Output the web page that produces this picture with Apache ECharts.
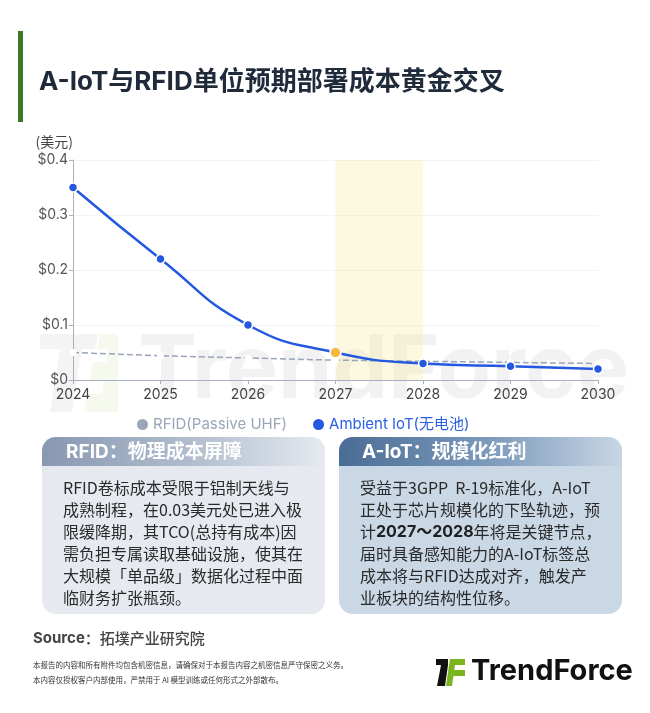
<!DOCTYPE html>
<html>
<head>
<meta charset="utf-8">
<script src="https://cdn.jsdelivr.net/npm/echarts@6/dist/echarts.min.js"></script>
<style>
html,body{margin:0;padding:0;background:#fff;}
#c{width:650px;height:713px;}
</style>
</head>
<body>
<div id="c"></div>
<script>
const years = ['2024','2025','2026','2027','2028','2029','2030'];
const rfidCost = [0.05, 0.044, 0.04, 0.036, 0.034, 0.032, 0.03];
const aiotCost = [0.35, 0.22, 0.10, 0.05, 0.03, 0.025, 0.02];
const yTicks = [0, 0.1, 0.2, 0.3, 0.4];
const highlightRange = ['2027', '2028'];
const seriesNames = ['RFID(Passive UHF)', 'Ambient IoT(无电池)'];

const FONT = "Inter, 'Noto Sans CJK SC', sans-serif";
const CJK = "'Noto Sans CJK SC', Inter, sans-serif";

const leftBody = 'RFID卷标成本受限于铝制天线与\n成熟制程，在0.03美元处已进入极\n限缓降期，其TCO(总持有成本)因\n需负担专属读取基础设施，使其在\n大规模「单品级」数据化过程中面\n临财务扩张瓶颈。';
const rightBody = '受益于3GPP  R-19标准化，A-IoT\n正处于芯片规模化的下坠轨迹，预\n计{b|2027～2028}年将是关键节点，\n届时具备感知能力的A-IoT标签总\n成本将与RFID达成对齐，触发产\n业板块的结构性位移。';

const chart = echarts.init(document.getElementById('c'), null, {renderer: 'canvas'});

const aiotData = aiotCost.map((v, i) => {
  if (years[i] === '2027') {
    return {value: v, symbolSize: 11, itemStyle: {color: '#f5b942', borderColor: '#fff', borderWidth: 1.5}};
  }
  return v;
});

const option = {
  backgroundColor: '#ffffff',
  animation: false,
  textStyle: {fontFamily: FONT},
  grid: {left: 73, right: 52, top: 160, bottom: 333, containLabel: false},
  legend: {
    left: 132, top: 412,
    itemGap: 26, itemWidth: 11, itemHeight: 11,
    icon: 'circle',
    data: [
      {name: seriesNames[0], itemStyle: {color: '#9aa5b8', borderWidth: 0}, textStyle: {color: '#9aa5b8'}},
      {name: seriesNames[1], itemStyle: {color: '#2458e0', borderWidth: 0}, textStyle: {color: '#2a5fe3'}}
    ],
    textStyle: {fontSize: 15, fontFamily: FONT}
  },
  xAxis: {
    type: 'category', data: years, boundaryGap: false,
    axisLine: {lineStyle: {color: '#a8b0bd'}},
    axisTick: {show: true, alignWithLabel: true, length: 4, lineStyle: {color: '#a8b0bd'}},
    axisLabel: {color: '#444', fontSize: 14, margin: 8, fontFamily: FONT}
  },
  yAxis: {
    type: 'value', min: yTicks[0], max: yTicks[yTicks.length - 1], interval: 0.1,
    name: '(美元)', nameLocation: 'end', nameGap: 11,
    nameTextStyle: {color: '#444', fontSize: 14, align: 'right', fontFamily: CJK, padding: [0, 0, 0, 0]},
    axisLine: {show: true, lineStyle: {color: '#a8b0bd'}},
    axisTick: {show: true, length: 4, lineStyle: {color: '#a8b0bd'}},
    axisLabel: {color: '#555', fontSize: 14, margin: 5, fontFamily: FONT,
      formatter: v => v === 0 ? '$0' : '$' + v.toFixed(1)},
    splitLine: {lineStyle: {color: '#e4e7ec', type: 'dotted'}}
  },
  graphic: [
    // watermark
    {type: 'group', z: 1, silent: true, children: [
      {type: 'polygon', shape: {points: [[40,334],[98,334],[95,349],[40,349]]}, style: {fill: 'rgba(0,0,0,0.045)'}},
      {type: 'polygon', shape: {points: [[60,349],[82,349],[72,412],[50,412]]}, style: {fill: 'rgba(0,0,0,0.045)'}},
      {type: 'polygon', shape: {points: [[100,334],[118,334],[118,412],[84,412],[88,394],[102,394],[104,380],[90,380],[93,362],[106,362],[108,349],[97,349]]}, style: {fill: 'rgba(140,190,40,0.08)'}},
      {type: 'text', left: 138, top: 328, style: {text: 'TrendForce', font: 'bold 88px ' + FONT, fill: 'rgba(0,0,0,0.05)'}}
    ]},
    // title bar
    {type: 'rect', shape: {x: 18, y: 31, width: 5, height: 91}, style: {fill: '#3b7a23'}},
    {type: 'text', left: 39, top: 69, style: {text: 'A-IoT与RFID单位预期部署成本黄金交叉', font: 'bold 26px ' + FONT, fill: '#1f2a3a'}},
    // left box
    {type: 'rect', shape: {x: 42, y: 437, width: 283, height: 177, r: 14}, style: {fill: '#e6eaf0'}},
    {type: 'rect', shape: {x: 42, y: 437, width: 283, height: 29, r: [14, 14, 0, 0]},
      style: {fill: new echarts.graphic.LinearGradient(0, 0, 1, 0, [{offset: 0, color: '#8898b2'}, {offset: 0.55, color: '#b3bfcf'}, {offset: 1, color: '#e6eaf0'}])}},
    {type: 'text', left: 66, top: 443, style: {text: 'RFID：物理成本屏障', font: 'bold 19px ' + FONT, fill: '#ffffff'}},
    {type: 'text', left: 63, top: 477, style: {text: leftBody, font: '16px ' + CJK, fill: '#2a2a2a', lineHeight: 22}},
    // right box
    {type: 'rect', shape: {x: 339, y: 437, width: 283, height: 177, r: 14}, style: {fill: '#cad7e4'}},
    {type: 'rect', shape: {x: 339, y: 437, width: 283, height: 29, r: [14, 14, 0, 0]},
      style: {fill: new echarts.graphic.LinearGradient(0, 0, 1, 0, [{offset: 0, color: '#4a6c95'}, {offset: 0.55, color: '#7f9cbd'}, {offset: 1, color: '#c8d6e4'}])}},
    {type: 'text', left: 362, top: 443, style: {text: 'A-IoT：规模化红利', font: 'bold 19px ' + FONT, fill: '#ffffff'}},
    {type: 'text', left: 360, top: 477, style: {text: rightBody, font: '16px ' + CJK, fill: '#2a2a2a', lineHeight: 22,
      rich: {b: {font: 'bold 16px ' + FONT, fill: '#1f1f1f', lineHeight: 22}}}},
    // source
    {type: 'text', left: 33, top: 631, style: {text: '{s|Source}{n|：拓墣产业研究院}',
      rich: {s: {font: 'bold 15px ' + FONT, fill: '#444'}, n: {font: '500 15px ' + CJK, fill: '#444'}}}},
    {type: 'text', left: 33, top: 658, style: {text: '本报告的内容和所有附件均包含机密信息，请确保对于本报告内容之机密信息严守保密之义务。\n本内容仅授权客户内部使用，严禁用于 AI 模型训练或任何形式之外部散布。', font: '7.5px ' + CJK, fill: '#333', lineHeight: 15}},
    // logo
    {type: 'polygon', shape: {points: [[436,659],[448,659],[448,665],[436,665]]}, style: {fill: '#111'}},
    {type: 'polygon', shape: {points: [[441,665],[448,665],[445,686],[437,686]]}, style: {fill: '#111'}},
    {type: 'polygon', shape: {points: [[450,659],[465,659],[465,665],[449,665]]}, style: {fill: '#7ab51d'}},
    {type: 'polygon', shape: {points: [[449,665],[455,665],[452,686],[446,686]]}, style: {fill: '#7ab51d'}},
    {type: 'polygon', shape: {points: [[454,670],[465,670],[465,676],[453,676]]}, style: {fill: '#7ab51d'}},
    {type: 'text', left: 471, top: 657, style: {text: 'TrendForce', font: 'bold 29px ' + FONT, fill: '#111'}}
  ],
  series: [
    {
      name: seriesNames[0], type: 'line', data: rfidCost, z: 3,
      color: '#9aa5b8',
      symbol: 'emptyCircle', symbolSize: 5, showSymbol: true,
      lineStyle: {color: '#9aa5b8', width: 1.5, type: 'dashed'},
      itemStyle: {color: '#fff', borderColor: '#b6bdca', borderWidth: 1}
    },
    {
      name: seriesNames[1], type: 'line', data: aiotData, smooth: true, z: 4,
      color: '#2458e0',
      symbol: 'circle', symbolSize: 9,
      lineStyle: {color: '#2458e0', width: 2.5},
      itemStyle: {color: '#2458e0', borderColor: '#fff', borderWidth: 1.5},
      markArea: {
        silent: true,
        itemStyle: {color: 'rgba(250,232,160,0.32)'},
        data: [[{xAxis: highlightRange[0]}, {xAxis: highlightRange[1]}]]
      }
    }
  ]
};
chart.setOption(option);
</script>
</body>
</html>
